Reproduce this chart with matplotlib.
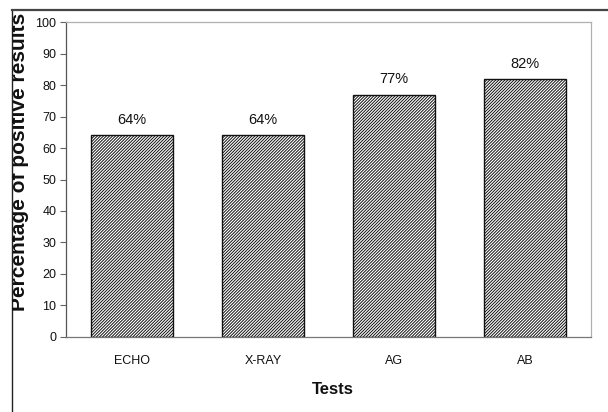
import matplotlib
matplotlib.use("Agg")
import matplotlib.pyplot as plt
from matplotlib.lines import Line2D
from matplotlib.transforms import Bbox, TransformedBbox

plt.rcParams["font.family"] = ["Liberation Sans", "DejaVu Sans"]
plt.rcParams["hatch.linewidth"] = 0.7
plt.rcParams["hatch.color"] = "#222222"

# Diagnostic tests and share of positive results (%)
tests = ["ECHO", "X-RAY", "AG", "AB"]
positive_pct = [64, 64, 77, 82]
y_ticks = [0, 10, 20, 30, 40, 50, 60, 70, 80, 90, 100]

W, H = 608, 412
fig = plt.figure(figsize=(W / 100, H / 100), dpi=100)
fig.patch.set_facecolor("white")

ax = fig.add_axes([66 / W, 1 - 336.7 / H, (591 - 66) / W, (336.7 - 22.3) / H])

x = range(len(tests))
ax.bar(x, positive_pct, width=0.625, color="white", edgecolor="#111111",
       linewidth=1.0, hatch="/" * 11, zorder=2)

for xi, v in zip(x, positive_pct):
    ax.annotate(f"{v}%", xy=(xi, v), xytext=(0, 11), textcoords="offset points",
                ha="center", va="center", fontsize=10.5, color="#111111")

ax.set_xlim(-0.5, len(tests) - 0.5)
ax.set_ylim(0, 100)
ax.set_yticks(y_ticks)
ax.set_yticklabels([str(t) for t in y_ticks], fontsize=9, color="#111111")
ax.set_xticks(list(x))
ax.set_xticklabels(tests, fontsize=9, color="#111111")
ax.tick_params(axis="y", direction="out", length=4, width=0.8, color="#666666", pad=3)
ax.tick_params(axis="x", length=0, pad=13)

ax.spines["left"].set_color("#555555")
ax.spines["left"].set_linewidth(0.9)
ax.spines["bottom"].set_color("#777777")
ax.spines["bottom"].set_linewidth(0.9)
for s in ("top", "right"):
    ax.spines[s].set_color("#b0b0b0")
    ax.spines[s].set_linewidth(0.9)

# Axis titles
fig.text(333 / W, 1 - 389 / H, "Tests", ha="center", va="center",
         fontsize=12, fontweight="bold", color="#111111")
ylab = fig.text(20 / W, 1 - 162 / H, "Percentage of positive results",
                rotation=90, ha="center", va="center",
                fontsize=15, fontweight="bold", color="#111111")
clip = TransformedBbox(Bbox([[12 / W, 0], [1, 1 - 10 / H]]), fig.transFigure)
ylab.set_clip_box(clip)
ylab.set_clip_on(True)

# Surrounding frame
fig.add_artist(Line2D([11.5 / W, 11.5 / W], [0, 1 - 10 / H], transform=fig.transFigure,
                      color="#222222", linewidth=1.0))
fig.add_artist(Line2D([11.5 / W, 1], [1 - 10 / H, 1 - 10 / H], transform=fig.transFigure,
                      color="#444444", linewidth=1.6))

fig.savefig("out.png", dpi=100, facecolor="white")
